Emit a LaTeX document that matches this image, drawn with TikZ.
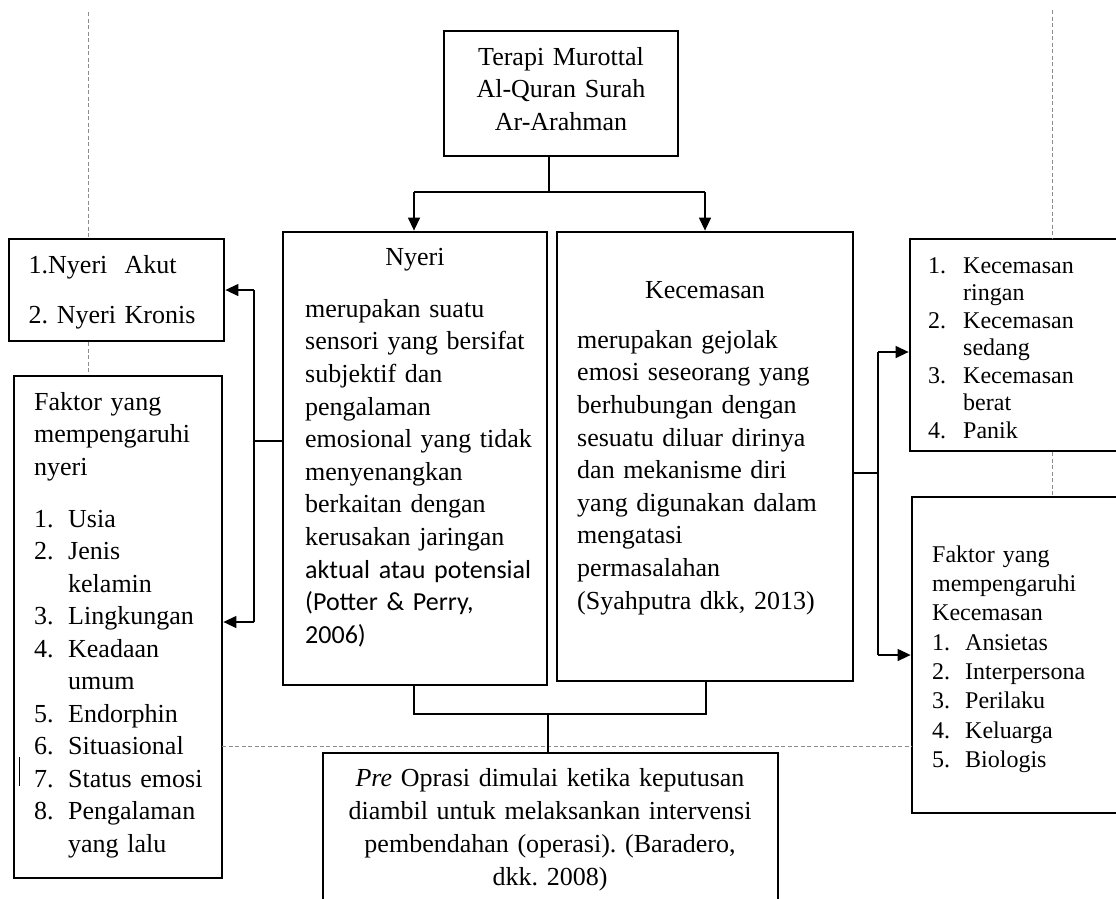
\documentclass[tikz,border=0pt]{standalone}
\usepackage{fontspec}
\setmainfont{Liberation Serif}
\newfontfamily\calfont{Carlito}
\usetikzlibrary{arrows.meta}
\frenchspacing
\newcommand\setfs[2]{\fontsize{#1}{#2}\selectfont}
\newcommand\itm[2]{\makebox[#1][l]{#2}}
\begin{document}
\begin{tikzpicture}[x=1pt,y=-1pt,
  box/.style={draw=black,line width=2.8pt,inner sep=0,shape=rectangle},
  con/.style={draw=black,line width=1.3pt},
  arr/.style={con,-{Triangle[length=13pt,width=12pt]}},
  guide/.style={draw=black!45,line width=0.9pt,dash pattern=on 4pt off 2.5pt},
  txt/.style={inner sep=0,anchor=north west,align=left,text width=330pt},
  ctxt/.style={inner sep=0,anchor=north,align=center,text width=450pt}]
\useasboundingbox (0,0) rectangle (1116,898);
\clip (0,0) rectangle (1116,898);
\fill[white] (0,0) rectangle (1116,898);

% boxes
\node[box,minimum width=234pt,minimum height=125pt] (top) at (561,93.5) {};
\node[box,minimum width=264pt,minimum height=453pt] (nyeri) at (415,458.5) {};
\node[box,minimum width=296pt,minimum height=449pt] (kec) at (705,456.5) {};
\node[box,minimum width=215pt,minimum height=102pt] (l1) at (116.5,290) {};
\node[box,minimum width=208pt,minimum height=502pt] (l2) at (118,627) {};
\node[box,minimum width=230pt,minimum height=212pt] (r1) at (1025,345) {};
\node[box,minimum width=228pt,minimum height=316pt] (r2) at (1026,655) {};
\node[box,minimum width=455pt,minimum height=167pt] (pre) at (550.5,836.5) {};

% guide lines
\coordinate (gl1) at (88,12);
\coordinate (gr1) at (1052,10);
\coordinate (gh1) at (222,746);
\coordinate (gh2) at (912,746);
\draw[guide] (gl1) -- (gl1 |- l1.north);
\draw[guide] (gl1 |- l1.south) -- (gl1 |- l2.north);
\draw[guide] (gr1) -- (gr1 |- r1.north);
\draw[guide] (gr1 |- r1.south) -- (gr1 |- r2.north);
\draw[guide] (gh1) -- (gh2);

% top connectors
\coordinate (jt) at (549,192);
\coordinate (ja) at (414,192);
\coordinate (jb) at (705,192);
\draw[con] (jt |- top.south) -- (jt);
\draw[con] (ja) -- (jb);
\draw[arr] (ja) -- (ja |- nyeri.north);
\draw[arr] (jb) -- (jb |- kec.north);

% left connectors
\coordinate (lv) at (254,441);
\coordinate (lt) at (254,290);
\coordinate (lb) at (254,622);
\draw[con] (nyeri.west |- lv) -- (lv);
\draw[con] (lt) -- (lb);
\draw[arr] (lt) -- (lt -| l1.east);
\draw[arr] (lb) -- (lb -| l2.east);

% right connectors
\coordinate (rv) at (878,473);
\coordinate (rt) at (878,352);
\coordinate (rb) at (878,655);
\draw[con] (kec.east |- rv) -- (rv);
\draw[con] (rt) -- (rb);
\draw[arr] (rt) -- (rt -| r1.west);
\draw[arr] (rb) -- (rb -| r2.west);

% bottom connectors
\coordinate (ba) at (414,714);
\coordinate (bb) at (706,714);
\coordinate (bm) at (548,714);
\draw[con] (ba |- nyeri.south) -- (ba) -- (bb) -- (bb |- kec.south);
\draw[con] (bm) -- (bm |- pre.north);

% stray mark
\coordinate (sm1) at (19,757);
\coordinate (sm2) at (19,786);
\draw[draw=black,line width=1pt] (sm1) -- (sm2);

% texts
\node[ctxt,font=\setfs{26}{32.5}] (ttop) at (561,42.25)
  {\strut Terapi Murottal\\Al-Quran Surah\\Ar-Arahman};

\node[inner sep=0,anchor=base,font=\setfs{26}{32.5}] (tnyt) at (415,265) {Nyeri};
\node[txt,font=\setfs{26}{32.6}] (tnyb) at (305,294.2)
  {\strut merupakan suatu\\sensori yang bersifat\\subjektif dan\\pengalaman\\
   emosional yang tidak\\menyenangkan\\berkaitan dengan\\kerusakan jaringan\\
   {\calfont aktual atau potensial}\\{\calfont (Potter \& Perry,}\\{\calfont 2006)}};

\node[inner sep=0,anchor=base,font=\setfs{26}{32.5}] (tket) at (705,298) {Kecemasan};
\node[txt,font=\setfs{26}{32.6}] (tkeb) at (577,325.2)
  {\strut merupakan gejolak\\emosi seseorang yang\\berhubungan dengan\\sesuatu diluar dirinya\\
   dan mekanisme diri\\yang digunakan dalam\\mengatasi\\permasalahan\\(Syahputra dkk, 2013)};

\node[txt,font=\setfs{26}{50}] (tl1) at (28.5,238)
  {\strut 1.Nyeri\ \ Akut\\2. Nyeri Kronis};

\node[txt,font=\setfs{26}{32.5}] (tl2) at (34,387.25)
  {\strut Faktor yang\\mempengaruhi\\nyeri\\[19.5pt]
   \itm{34pt}{1.}Usia\\\itm{34pt}{2.}Jenis\\\hspace*{34pt}kelamin\\
   \itm{34pt}{3.}Lingkungan\\\itm{34pt}{4.}Keadaan\\\hspace*{34pt}umum\\
   \itm{34pt}{5.}Endorphin\\\itm{34pt}{6.}Situasional\\\itm{34pt}{7.}Status emosi\\
   \itm{34pt}{8.}Pengalaman\\\hspace*{34pt}yang lalu};

\node[txt,font=\setfs{24}{27.5}] (tr1) at (928,253.75)
  {\strut \itm{35pt}{1.}Kecemasan\\\hspace*{35pt}ringan\\\itm{35pt}{2.}Kecemasan\\
   \hspace*{35pt}sedang\\\itm{35pt}{3.}Kecemasan\\\hspace*{35pt}berat\\\itm{35pt}{4.}Panik};

\node[txt,font=\setfs{24}{29.3}] (tr2) at (932,541.5)
  {\strut Faktor yang\\mempengaruhi\\Kecemasan\\\itm{33pt}{1.}Ansietas\\
   \itm{33pt}{2.}Interpersona\\\itm{33pt}{3.}Perilaku\\\itm{33pt}{4.}Keluarga\\\itm{33pt}{5.}Biologis};

\node[ctxt,font=\setfs{26}{33}] (tpre) at (550,762.9)
  {\strut \textit{Pre} Oprasi dimulai ketika keputusan\\diambil untuk melaksankan intervensi\\
   pembendahan (operasi). (Baradero,\\dkk. 2008)};
\end{tikzpicture}
\end{document}
